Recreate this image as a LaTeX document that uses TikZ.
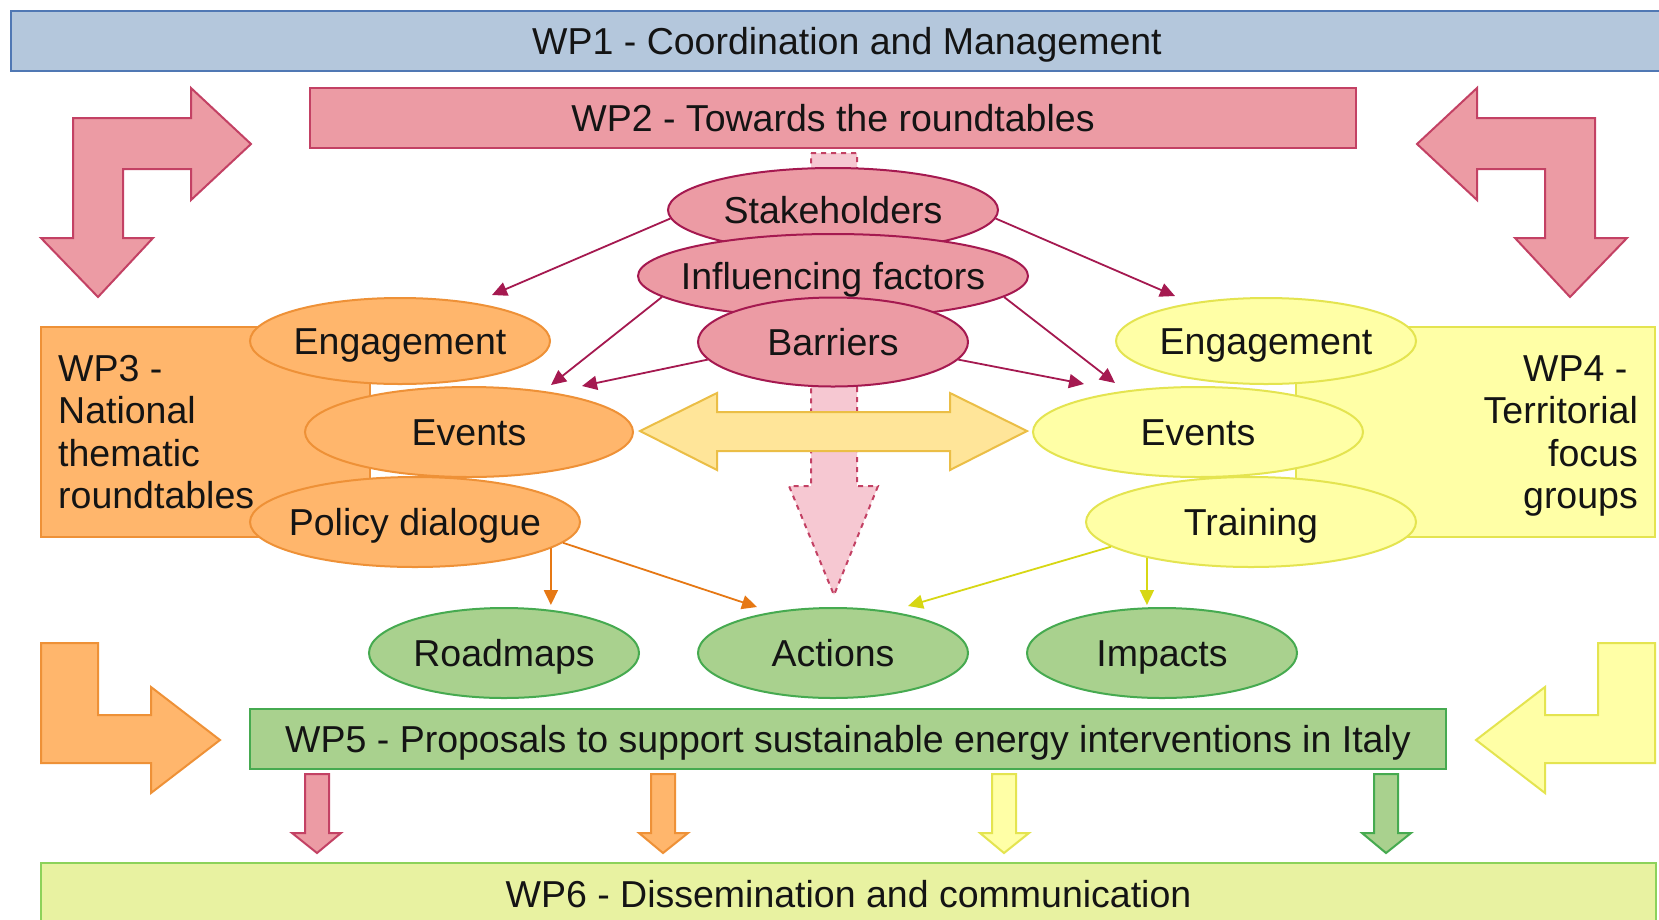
\documentclass[tikz,border=0pt]{standalone}
\usepackage{fontspec}
\setmainfont{Liberation Sans}
\usetikzlibrary{arrows.meta,shapes.geometric}
\definecolor{wpAfill}{RGB}{180,199,220}
\definecolor{wpAdraw}{RGB}{80,120,180}
\definecolor{pinkfill}{RGB}{236,155,164}
\definecolor{pinkdraw}{RGB}{195,65,100}
\definecolor{pinkdark}{RGB}{165,25,80}
\definecolor{lpinkfill}{RGB}{246,200,210}
\definecolor{orfill}{RGB}{255,182,108}
\definecolor{ordraw}{RGB}{238,145,55}
\definecolor{orline}{RGB}{230,120,20}
\definecolor{yefill}{RGB}{255,255,166}
\definecolor{yedraw}{RGB}{228,228,80}
\definecolor{yeline}{RGB}{215,215,20}
\definecolor{gofill}{RGB}{255,229,153}
\definecolor{godraw}{RGB}{235,190,70}
\definecolor{grfill}{RGB}{169,209,142}
\definecolor{grdraw}{RGB}{70,170,80}
\definecolor{wpFfill}{RGB}{232,242,161}
\definecolor{wpFdraw}{RGB}{140,210,90}
\definecolor{txt}{RGB}{20,20,20}
\newcommand{\zw}[1]{\makebox[0pt]{#1}}
\begin{document}
\begin{tikzpicture}[x=1pt,y=-1pt,
  every node/.style={font=\fontsize{37.5}{42.5}\selectfont, text=txt},
  oneline/.style={text height=32pt, text depth=5.2pt},
  box/.style={rectangle, draw, line width=2pt, inner sep=0pt, oneline},
  ell/.style={ellipse, draw, line width=2pt, inner sep=0pt, oneline},
  pinkell/.style={ell, fill=pinkfill, draw=pinkdark},
  orell/.style={ell, fill=orfill, draw=ordraw},
  yeell/.style={ell, fill=yefill, draw=yedraw},
  grell/.style={ell, fill=grfill, draw=grdraw},
  multi/.style={inner sep=0pt},
  shape pink/.style={fill=pinkfill, draw=pinkdraw, line width=2pt},
  shape or/.style={fill=orfill, draw=ordraw, line width=2pt},
  shape ye/.style={fill=yefill, draw=yedraw, line width=2pt},
  shape gr/.style={fill=grfill, draw=grdraw, line width=2pt},
  conn/.style={line width=1.8pt, -{Triangle[length=15pt,width=14pt]}},
  pline/.style={conn, draw=pinkdark},
  oline/.style={conn, draw=orline},
  yline/.style={conn, draw=yeline}
]
\useasboundingbox (0,0) rectangle (1659,919);
\fill[white] (0,0) rectangle (1659,919);

% WP1 and WP2
\node[box, fill=wpAfill, draw=wpAdraw, minimum width=1672, minimum height=60] (wp1) at (847,41) {WP1 - Coordination and Management};
\node[box, fill=pinkfill, draw=pinkdraw, minimum width=1046, minimum height=60] (wp2) at (833,118) {WP2 - Towards the roundtables};

% bent arrows (pink)
\draw[shape pink] (98,297) -- (153,238) -- (123,238) -- (123,169) -- (191,169) -- (191,200) -- (251,144) -- (191,88) -- (191,118) -- (73,118) -- (73,238) -- (41,238) -- cycle;
\draw[shape pink] (1570,297) -- (1515,238) -- (1545,238) -- (1545,169) -- (1477,169) -- (1477,200) -- (1417,144) -- (1477,88) -- (1477,118) -- (1595,118) -- (1595,238) -- (1627,238) -- cycle;

% bent arrows (orange, yellow)
\draw[shape or] (41,643) -- (98,643) -- (98,715) -- (151,715) -- (151,687) -- (220,740) -- (151,793) -- (151,763) -- (41,763) -- cycle;
\draw[shape ye] (1655,643) -- (1598,643) -- (1598,715) -- (1545,715) -- (1545,687) -- (1476,740) -- (1545,793) -- (1545,763) -- (1655,763) -- cycle;

% dashed pink down arrow
\draw[fill=lpinkfill, draw=pinkdraw, line width=2pt, dash pattern=on 5pt off 5pt] (811,153) -- (857,153) -- (857,486) -- (878,486) -- (834,595) -- (789,486) -- (811,486) -- cycle;

% WP3 and WP4 boxes
\node[box, fill=orfill, draw=ordraw, minimum width=329, minimum height=210] (wp3) at (205.5,432) {};
\node[box, fill=yefill, draw=yedraw, minimum width=359, minimum height=210] (wp4) at (1475.5,432) {};
\node[multi, anchor=north west, align=left] (wp3t) at (58,355) {WP3 -\\National\\thematic\\roundtables};
\node[multi, anchor=north east, align=right] (wp4t) at (1638,355) {WP4 -\hspace*{0.28em}\\Territorial\hspace*{0.28em}\\focus\hspace*{0.28em}\\groups};

% yellow double arrow
\draw[fill=gofill, draw=godraw, line width=2pt] (640,431) -- (717,393) -- (717,412) -- (950,412) -- (950,393) -- (1027,431) -- (950,470) -- (950,451) -- (717,451) -- (717,470) -- cycle;

% pink ellipses
\node[pinkell, minimum width=330, minimum height=84] (stake) at (833,210) {\zw{Stakeholders}};
\node[pinkell, minimum width=390, minimum height=84] (infl) at (833,276) {\zw{Influencing factors}};
\node[pinkell, minimum width=270, minimum height=89] (barr) at (833,342) {\zw{Barriers}};

% orange ellipses
\node[orell, minimum width=300, minimum height=86] (leng) at (400,341) {\zw{Engagement}};
\node[orell, minimum width=328, minimum height=90] (lev) at (469,432) {\zw{Events}};
\node[orell, minimum width=330, minimum height=90] (lpol) at (415,522) {\zw{Policy dialogue}};

% yellow ellipses
\node[yeell, minimum width=300, minimum height=86] (reng) at (1266,341) {\zw{Engagement}};
\node[yeell, minimum width=330, minimum height=90] (rev) at (1198,432) {\zw{Events}};
\node[yeell, minimum width=330, minimum height=90] (rtr) at (1251,522) {\zw{Training}};

% green ellipses
\node[grell, minimum width=270, minimum height=90] (road) at (504,653) {\zw{Roadmaps}};
\node[grell, minimum width=270, minimum height=90] (act) at (833,653) {\zw{Actions}};
\node[grell, minimum width=270, minimum height=90] (imp) at (1162,653) {\zw{Impacts}};

% WP5 and WP6
\node[box, fill=grfill, draw=grdraw, minimum width=1196, minimum height=60] (wp5) at (848,739) {WP5 - Proposals to support sustainable energy interventions in Italy};
\node[box, fill=wpFfill, draw=wpFdraw, minimum width=1615, minimum height=62] (wp6) at (848.5,894) {WP6 - Dissemination and communication};

% small down arrows
\draw[shape pink] (305,774) -- (329,774) -- (329,833) -- (341,833) -- (317,853) -- (292,833) -- (305,833) -- cycle;
\draw[shape or] (651,774) -- (675,774) -- (675,833) -- (688,833) -- (663,853) -- (639,833) -- (651,833) -- cycle;
\draw[shape ye] (992,774) -- (1016,774) -- (1016,833) -- (1029,833) -- (1004,853) -- (980,833) -- (992,833) -- cycle;
\draw[shape gr] (1374,774) -- (1398,774) -- (1398,833) -- (1411,833) -- (1386,853) -- (1362,833) -- (1374,833) -- cycle;

% connector end points
\coordinate (t1) at (492,295);
\coordinate (t2) at (1175,296);
\coordinate (t3) at (551,385);
\coordinate (t4) at (582,386);
\coordinate (t5) at (1115,383);
\coordinate (t6) at (1084,384);
\coordinate (t7) at (550,605);
\coordinate (t8) at (757,607);
\coordinate (t9) at (908,606);
\coordinate (t10) at (1146,605);

% connectors
\draw[pline] (stake.183) -- (t1);
\draw[pline] (stake.357) -- (t2);
\draw[pline] (infl.187) -- (t3);
\draw[pline] (barr.188) -- (t4);
\draw[pline] (infl.353) -- (t5);
\draw[pline] (barr.352) -- (t6);
\draw[oline] (lpol.349) -- (lpol.349 |- t7);
\draw[oline] (lpol.352) -- (t8);
\draw[yline] (rtr.190) -- (t9);
\draw[yline] (rtr.199) -- (rtr.199 |- t10);
\end{tikzpicture}
\end{document}
